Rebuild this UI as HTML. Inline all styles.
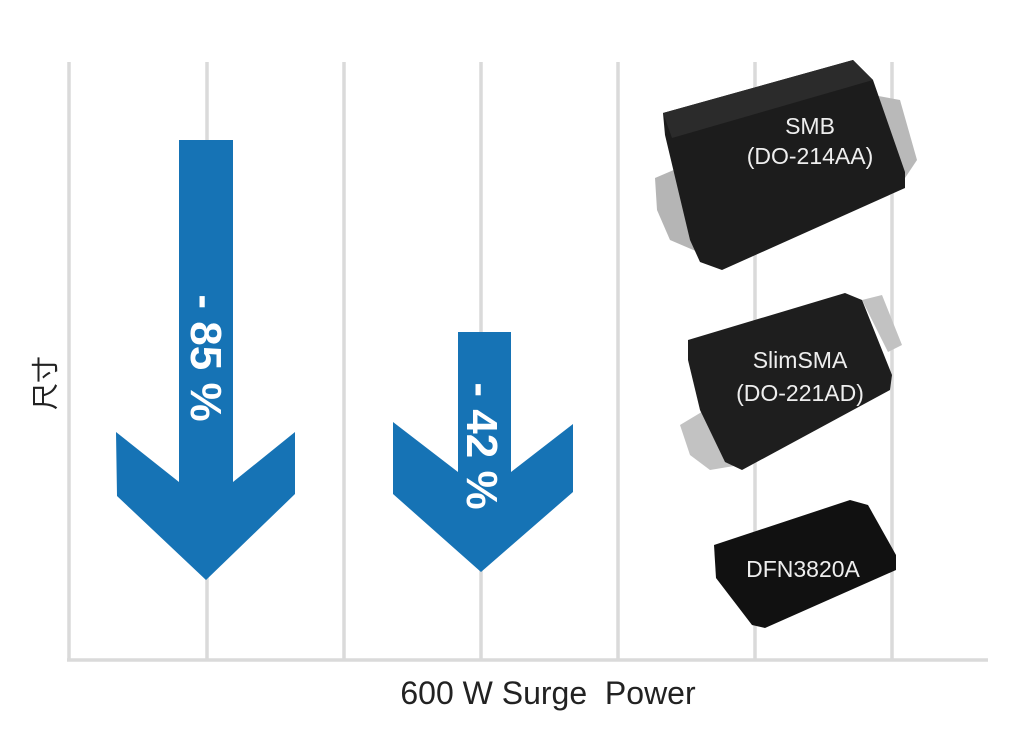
<!DOCTYPE html>
<html><head><meta charset="utf-8"><style>
html,body{margin:0;padding:0;background:#fff;}
</style></head><body>
<svg width="1022" height="731" viewBox="0 0 1022 731" xmlns="http://www.w3.org/2000/svg">
<g stroke="#dadada" stroke-width="3.5">
<line x1="69" y1="62" x2="69" y2="661"/>
<line x1="207" y1="62" x2="207" y2="661"/>
<line x1="344" y1="62" x2="344" y2="661"/>
<line x1="481" y1="62" x2="481" y2="661"/>
<line x1="618" y1="62" x2="618" y2="661"/>
<line x1="755" y1="62" x2="755" y2="661"/>
<line x1="892" y1="62" x2="892" y2="661"/>
<line x1="67" y1="660" x2="988" y2="660"/>
</g>
<polygon fill="#1673b5" points="116,432 179,482 179,140 233,140 233,482 295,432 295,494 206,580 117,496"/>
<polygon fill="#1673b5" points="393,422 458,472 458,332 511,332 511,472 573,424 573,492 481,572 393,494"/>
<text transform="translate(191,358) rotate(90)" font-family="Liberation Sans, sans-serif" font-weight="bold" font-size="44" fill="#fff" text-anchor="middle">- 85 %</text>
<text transform="translate(467,446) rotate(90)" font-family="Liberation Sans, sans-serif" font-weight="bold" font-size="44" fill="#fff" text-anchor="middle">- 42 %</text>
<text transform="translate(55,383) rotate(-90)" font-family="Liberation Sans, 'Noto Sans CJK SC', sans-serif" font-size="27" fill="#222" text-anchor="middle">尺寸</text>
<text x="548" y="704" font-family="Liberation Sans, sans-serif" font-size="32" fill="#222" text-anchor="middle">600 W Surge&#160; Power</text>
<!-- SMB -->
<polygon fill="#b9b9b9" points="873,95 900,100 917,160 905,178"/>
<polygon fill="#b5b5b5" points="655,178 690,163 720,230 712,258 670,240 657,210"/>
<polygon fill="#1c1c1c" points="663,113 853,60 873,80 905,172 905,188 722,270 700,262 690,240 665,135"/>
<polygon fill="#2b2b2b" points="663,113 853,60 873,80 672,138"/>
<text x="810" y="134" font-family="Liberation Sans, sans-serif" font-size="23" fill="#eee" text-anchor="middle">SMB</text>
<text x="810" y="164" font-family="Liberation Sans, sans-serif" font-size="23" fill="#eee" text-anchor="middle">(DO-214AA)</text>
<!-- SlimSMA -->
<polygon fill="#c2c2c2" points="862,300 882,295 902,345 888,352"/>
<polygon fill="#c2c2c2" points="680,425 705,410 742,445 740,465 710,470 690,455"/>
<polygon fill="#1e1e1e" points="688,340 845,293 862,300 892,375 890,390 742,470 725,462 700,410 688,360"/>
<text x="800" y="368" font-family="Liberation Sans, sans-serif" font-size="23" fill="#eee" text-anchor="middle">SlimSMA</text>
<text x="800" y="401" font-family="Liberation Sans, sans-serif" font-size="23" fill="#eee" text-anchor="middle">(DO-221AD)</text>
<!-- DFN -->
<polygon fill="#111" points="714,545 850,500 868,505 896,555 896,570 765,628 752,625 716,578"/>
<text x="803" y="577" font-family="Liberation Sans, sans-serif" font-size="23" fill="#eee" text-anchor="middle">DFN3820A</text>
</svg>
</body></html>
